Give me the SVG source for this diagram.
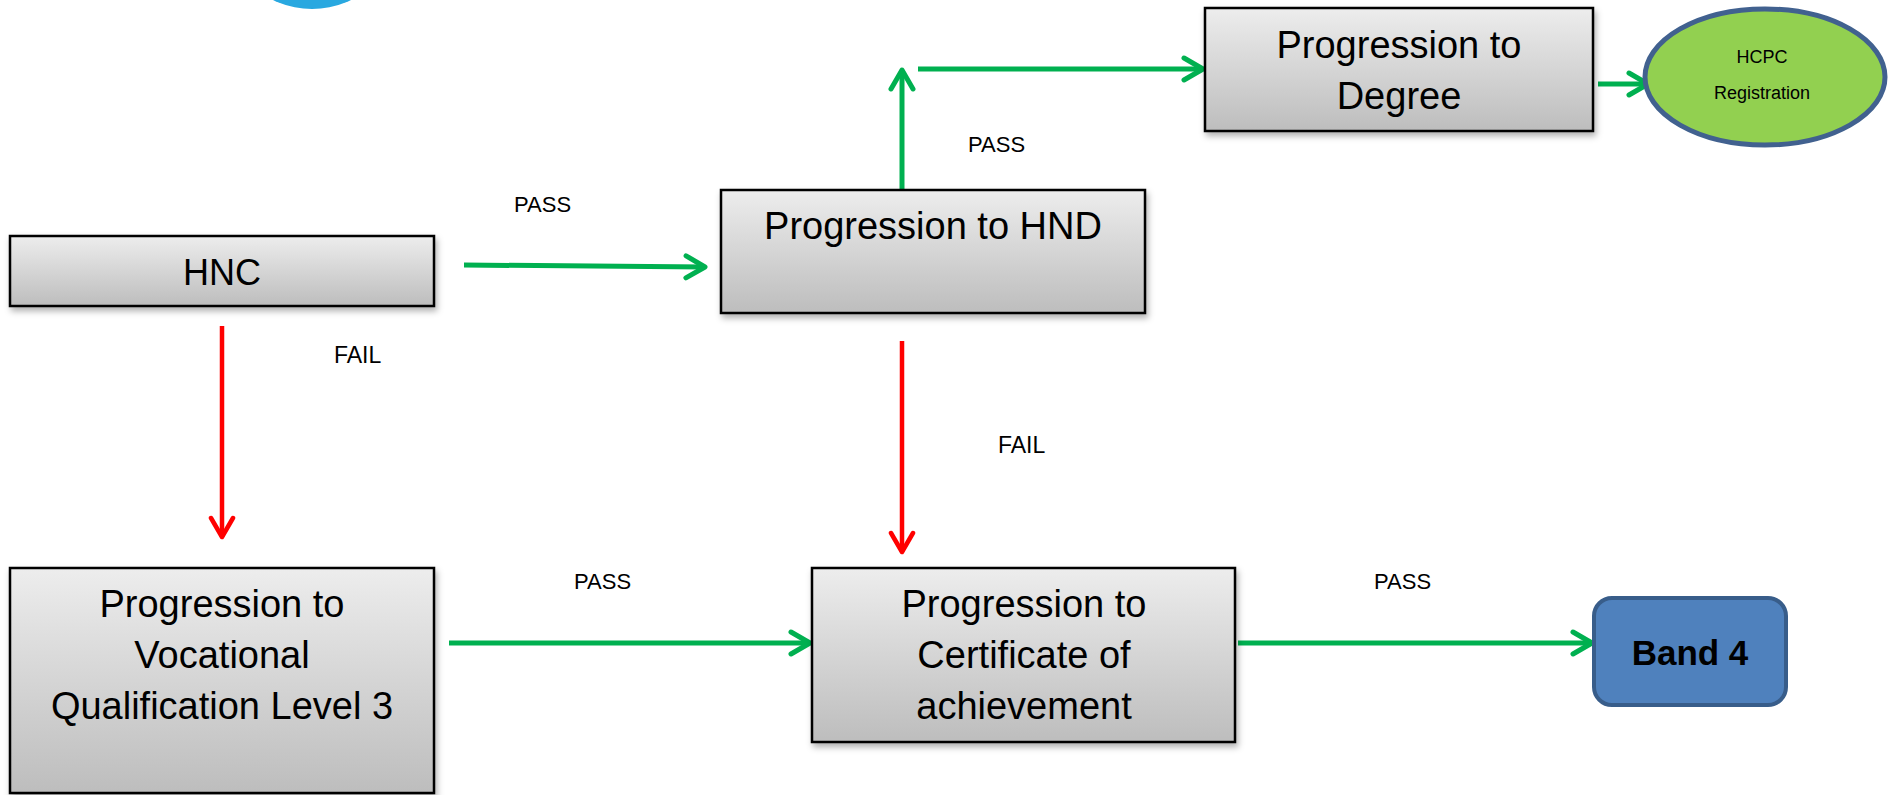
<svg xmlns="http://www.w3.org/2000/svg" width="1888" height="795" viewBox="0 0 1888 795">
<defs>
<linearGradient id="gray" x1="0" y1="0" x2="0" y2="1">
<stop offset="0" stop-color="#EDEDED"/>
<stop offset="1" stop-color="#BDBDBD"/>
</linearGradient>
<filter id="sh" x="-10%" y="-10%" width="120%" height="130%">
<feDropShadow dx="2" dy="4" stdDeviation="3" flood-color="#000" flood-opacity="0.3"/>
</filter>
<marker id="ag" viewBox="0 0 26 28" refX="23" refY="14" markerWidth="26" markerHeight="28" markerUnits="userSpaceOnUse" orient="auto">
<path d="M4,3 L23,14 L4,25" fill="none" stroke="#00B050" stroke-width="5" stroke-linecap="round" stroke-linejoin="round"/>
</marker>
<marker id="ar" viewBox="0 0 26 28" refX="23" refY="14" markerWidth="26" markerHeight="28" markerUnits="userSpaceOnUse" orient="auto">
<path d="M4,3 L23,14 L4,25" fill="none" stroke="#FF0000" stroke-width="4.5" stroke-linecap="round" stroke-linejoin="round"/>
</marker>
</defs>
<style>
.box{fill:url(#gray);stroke:#000;stroke-width:2.5;filter:url(#sh)}
.t{font-family:"Liberation Sans",Arial,sans-serif;font-size:38px;fill:#000;text-anchor:middle}
.lbl{font-family:"Liberation Sans",Arial,sans-serif;font-size:22px;fill:#000}
.g{stroke:#00B050;stroke-width:5;fill:none;marker-end:url(#ag)}
.r{stroke:#FF0000;stroke-width:4.5;fill:none;marker-end:url(#ar)}
</style>
<rect width="1888" height="795" fill="#fff"/>
<circle cx="312" cy="-80" r="89" fill="#29A8E0"/>

<g id="connectors">
<line class="g" x1="464" y1="265" x2="705" y2="267"/>
<line class="g" x1="902" y1="190" x2="902" y2="70"/>
<line class="g" x1="918" y1="69" x2="1203" y2="69"/>
<line class="g" x1="1598" y1="84" x2="1648" y2="84"/>
<line class="r" x1="222" y1="326" x2="222" y2="537"/>
<line class="r" x1="902" y1="341" x2="902" y2="552"/>
<line class="g" x1="449" y1="643" x2="810" y2="643"/>
<line class="g" x1="1238" y1="643" x2="1592" y2="643"/>
<text class="lbl" x="514" y="212">PASS</text>
<text class="lbl" x="968" y="152">PASS</text>
<text class="lbl" x="334" y="363" style="font-size:23px">FAIL</text>
<text class="lbl" x="998" y="453" style="font-size:23px">FAIL</text>
<text class="lbl" x="574" y="589">PASS</text>
<text class="lbl" x="1374" y="589">PASS</text>
</g>

<g id="hnc">
<rect class="box" x="10" y="236" width="424" height="70"/>
<text class="t" x="222" y="285" style="font-size:36px">HNC</text>
</g>

<g id="hnd">
<rect class="box" x="721" y="190" width="424" height="123"/>
<text class="t" x="933" y="239">Progression to HND</text>
</g>

<g id="degree">
<rect class="box" x="1205" y="8" width="388" height="123"/>
<text class="t" x="1399" y="58">Progression to</text>
<text class="t" x="1399" y="109">Degree</text>
</g>

<g id="hcpc">
<ellipse cx="1765" cy="77" rx="120" ry="68" fill="#92D050" stroke="#41618F" stroke-width="5"/>
<text class="t" x="1762" y="63" style="font-size:18px">HCPC</text>
<text class="t" x="1762" y="99" style="font-size:18px">Registration</text>
</g>

<g id="vocational">
<rect class="box" x="10" y="568" width="424" height="225"/>
<text class="t" x="222" y="617">Progression to</text>
<text class="t" x="222" y="668">Vocational</text>
<text class="t" x="222" y="719">Qualification Level 3</text>
</g>

<g id="certificate">
<rect class="box" x="812" y="568" width="423" height="174"/>
<text class="t" x="1024" y="617">Progression to</text>
<text class="t" x="1024" y="668">Certificate of</text>
<text class="t" x="1024" y="719">achievement</text>
</g>

<g id="band4">
<rect x="1594" y="598" width="192" height="107" rx="18" ry="18" fill="#4F81BD" stroke="#385D8A" stroke-width="4"/>
<text class="t" x="1690" y="665" style="font-size:35px;font-weight:bold">Band 4</text>
</g>
</svg>
